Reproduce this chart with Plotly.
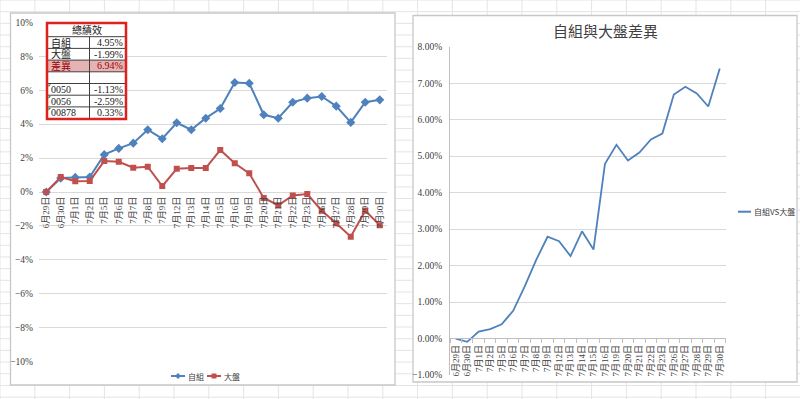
import plotly.graph_objects as go

# ---------------- data ----------------
dates = ["6月29日", "6月30日", "7月1日", "7月2日", "7月5日", "7月6日", "7月7日", "7月8日",
         "7月9日", "7月12日", "7月13日", "7月14日", "7月15日", "7月16日", "7月19日", "7月20日",
         "7月21日", "7月22日", "7月23日", "7月26日", "7月27日", "7月28日", "7月29日", "7月30日"]
own = [0.00, 0.82, 0.86, 0.88, 2.20, 2.57, 2.88, 3.67, 3.14, 4.08, 3.67, 4.35,
       4.92, 6.45, 6.41, 4.55, 4.35, 5.29, 5.53, 5.63, 5.06, 4.10, 5.29, 5.43]
market = [0.00, 0.88, 0.63, 0.65, 1.82, 1.78, 1.43, 1.49, 0.35, 1.37, 1.41, 1.41,
          2.47, 1.69, 1.10, -0.35, -0.78, -0.20, -0.12, -1.10, -1.84, -2.63, -1.10, -1.96]
diff = [0.00, -0.09, 0.19, 0.26, 0.39, 0.76, 1.42, 2.15, 2.79, 2.67, 2.26, 2.94,
        2.44, 4.79, 5.31, 4.88, 5.10, 5.46, 5.62, 6.69, 6.90, 6.72, 6.36, 7.40]

own_name = "自組"
market_name = "大盤"
diff_name = "自組VS大盤"
right_title = "自組與大盤差異"

table_title = "總績效"
table_labels = ["自組", "大盤", "差異", "", "0050", "0056", "00878"]
table_values = ["4.95%", "-1.99%", "6.94%", "", "-1.13%", "-2.59%", "0.33%"]

# ---------------- helpers ----------------
W, H = 800, 399


def px(x):
    return x / W


def py(y):
    return 1 - y / H


BLUE = "#4f81bd"
RED = "#c0504d"
GRID = "#d9d9d9"
SERIF = "Liberation Serif, Noto Sans CJK TC, serif"
CJK = "Noto Sans CJK TC, sans-serif"

fig = go.Figure()

fig.add_trace(go.Scatter(x=dates, y=own, name=own_name, mode="lines+markers",
                         line=dict(color=BLUE, width=2),
                         marker=dict(symbol="diamond", size=7, color=BLUE),
                         xaxis="x", yaxis="y", showlegend=False))
fig.add_trace(go.Scatter(x=dates, y=market, name=market_name, mode="lines+markers",
                         line=dict(color=RED, width=2),
                         marker=dict(symbol="square", size=6, color=RED),
                         xaxis="x", yaxis="y", showlegend=False))
fig.add_trace(go.Scatter(x=dates, y=diff, name=diff_name, mode="lines",
                         line=dict(color=BLUE, width=1.8),
                         xaxis="x2", yaxis="y2", showlegend=False))

shapes = []
# Excel sheet grid in the background
k = 0
while 34.8 * k <= W:
    shapes.append(dict(type="line", xref="paper", yref="paper", layer="below",
                       x0=px(34.8 * k), x1=px(34.8 * k), y0=0, y1=1,
                       line=dict(color="#e4e4e4", width=1)))
    k += 1
k = 0
while 11.68 * k <= H:
    shapes.append(dict(type="line", xref="paper", yref="paper", layer="below",
                       x0=0, x1=1, y0=py(11.68 * k), y1=py(11.68 * k),
                       line=dict(color="#e4e4e4", width=1)))
    k += 1
# chart boxes
shapes.append(dict(type="rect", xref="paper", yref="paper", layer="below",
                   x0=px(10.5), x1=px(395), y0=py(385), y1=py(13),
                   fillcolor="white", line=dict(color="#c8c8c8", width=1.3)))
shapes.append(dict(type="rect", xref="paper", yref="paper", layer="below",
                   x0=px(413), x1=px(797), y0=py(382), y1=py(15.5),
                   fillcolor="white", line=dict(color="#c8c8c8", width=1.3)))

# performance table over the left chart
tx0, tx1, tdiv = 47, 126, 89.5
ty0 = 23.5
row_h = 11.7
hdr_bottom = 36.7
rows_y = [hdr_bottom + i * row_h for i in range(len(table_labels) + 1)]
shapes.append(dict(type="rect", xref="paper", yref="paper", layer="above",
                   x0=px(tx0), x1=px(tx1), y0=py(rows_y[-1]), y1=py(ty0),
                   fillcolor="white", line=dict(width=0)))
shapes.append(dict(type="rect", xref="paper", yref="paper", layer="above",
                   x0=px(tx0), x1=px(tx1), y0=py(rows_y[3]), y1=py(rows_y[2]),
                   fillcolor="#e6b3b3", line=dict(width=0)))
for yy in rows_y[:-1]:
    shapes.append(dict(type="line", xref="paper", yref="paper", layer="above",
                       x0=px(tx0), x1=px(tx1), y0=py(yy), y1=py(yy),
                       line=dict(color="#404040", width=1)))
shapes.append(dict(type="line", xref="paper", yref="paper", layer="above",
                   x0=px(tdiv), x1=px(tdiv), y0=py(rows_y[-1]), y1=py(hdr_bottom),
                   line=dict(color="#404040", width=1)))
shapes.append(dict(type="rect", xref="paper", yref="paper", layer="above",
                   x0=px(tx0), x1=px(tx1), y0=py(rows_y[-1] + 0.5), y1=py(ty0 - 0.5),
                   line=dict(color="#e0201c", width=2.5)))
for i in (4, 5, 6):
    y0 = rows_y[i] + 1
    shapes.append(dict(type="path", xref="paper", yref="paper", layer="above",
                       path=f"M {px(tx0 + 1.5)} {py(y0)} L {px(tx0 + 4)} {py(y0)} L {px(tx0 + 1.5)} {py(y0 + 2.5)} Z",
                       fillcolor="#1e7a3c", line=dict(width=0)))

# ---- manual legends (Excel-style short keys) ----
ly = 376
# 自組 key: line + diamond
shapes.append(dict(type="line", xref="paper", yref="paper", x0=px(171), x1=px(185), y0=py(ly), y1=py(ly),
                   line=dict(color=BLUE, width=2)))
shapes.append(dict(type="path", xref="paper", yref="paper",
                   path=f"M {px(178)} {py(ly - 3)} L {px(181)} {py(ly)} L {px(178)} {py(ly + 3)} L {px(175)} {py(ly)} Z",
                   fillcolor=BLUE, line=dict(width=0)))
# 大盤 key: line + square
shapes.append(dict(type="line", xref="paper", yref="paper", x0=px(207), x1=px(221), y0=py(ly), y1=py(ly),
                   line=dict(color=RED, width=2)))
shapes.append(dict(type="rect", xref="paper", yref="paper",
                   x0=px(211.5), x1=px(216.5), y0=py(ly + 2.5), y1=py(ly - 2.5),
                   fillcolor=RED, line=dict(width=0)))
# right legend key
shapes.append(dict(type="line", xref="paper", yref="paper", x0=px(738), x1=px(751), y0=py(211.7), y1=py(211.7),
                   line=dict(color=BLUE, width=2)))

annotations = []
annotations.append(dict(xref="paper", yref="paper", x=px((tx0 + tx1) / 2), y=py((ty0 + hdr_bottom) / 2),
                        text=table_title, showarrow=False, xanchor="center", yanchor="middle",
                        font=dict(family=SERIF, size=10, color="#202020")))
for i, (lab, val) in enumerate(zip(table_labels, table_values)):
    if not lab:
        continue
    yc = (rows_y[i] + rows_y[i + 1]) / 2
    col = "#9c0006" if i == 2 else "#202020"
    annotations.append(dict(xref="paper", yref="paper", x=px(tx0 + 1.5), y=py(yc),
                            text=lab, showarrow=False, xanchor="left", yanchor="middle",
                            font=dict(family=SERIF, size=10, color=col)))
    annotations.append(dict(xref="paper", yref="paper", x=px(tx1 - 1.5), y=py(yc),
                            text=val, showarrow=False, xanchor="right", yanchor="middle",
                            font=dict(family=SERIF, size=10, color=col)))
annotations.append(dict(xref="paper", yref="paper", x=px(605), y=py(30.5),
                        text=right_title, showarrow=False, xanchor="center", yanchor="middle",
                        font=dict(family=CJK, size=15, color="#404040")))
leg_font = dict(family=CJK, size=8, color="#404040")
annotations.append(dict(xref="paper", yref="paper", x=px(186), y=py(ly), text=own_name,
                        showarrow=False, xanchor="left", yanchor="middle", font=leg_font))
annotations.append(dict(xref="paper", yref="paper", x=px(222), y=py(ly), text=market_name,
                        showarrow=False, xanchor="left", yanchor="middle", font=leg_font))
annotations.append(dict(xref="paper", yref="paper", x=px(752), y=py(211.7), text=diff_name,
                        showarrow=False, xanchor="left", yanchor="middle", font=leg_font))

tickfont = dict(family=SERIF, size=9, color="#404040")

fig.update_layout(
    width=W, height=H,
    margin=dict(l=0, r=0, t=0, b=0, pad=0, autoexpand=False),
    paper_bgcolor="white", plot_bgcolor="rgba(0,0,0,0)",
    shapes=shapes, annotations=annotations, showlegend=False,
    xaxis=dict(type="category", categoryorder="array", categoryarray=dates,
               domain=[px(39), px(387)], range=[-0.5, len(dates) - 0.5],
               anchor="free", position=py(192), tickangle=-90,
               showgrid=False, showline=False, zeroline=False, ticks="",
               tickfont=tickfont, ticklabelstandoff=2),
    yaxis=dict(domain=[py(361.7), py(22.3)], range=[-10, 10], dtick=2, ticksuffix="%",
               anchor="x", showgrid=True, gridcolor=GRID, gridwidth=1.3,
               zeroline=False, showline=False, ticks="",
               tickfont=dict(family=SERIF, size=9.5, color="#404040"), ticklabelstandoff=5),
    xaxis2=dict(type="category", categoryorder="array", categoryarray=dates,
                domain=[px(450), px(725.5)], range=[-0.5, len(dates) - 0.5],
                anchor="free", position=py(338.3), tickangle=-90,
                showgrid=False, showline=True, linecolor="#bfbfbf", linewidth=1,
                zeroline=False, ticks="outside", tickson="boundaries", ticklen=4,
                tickcolor="#bfbfbf", tickfont=tickfont, ticklabelstandoff=2),
    yaxis2=dict(domain=[py(375), py(46.7)], range=[-1, 8], dtick=1,
                tickformat=".2f", ticksuffix="%", anchor="x2",
                showgrid=True, gridcolor=GRID, gridwidth=1.3, zeroline=False,
                showline=True, linecolor="#bfbfbf", linewidth=1, ticks="",
                tickfont=dict(family=SERIF, size=9.5, color="#404040"), ticklabelstandoff=5),
)

fig.write_html("out.html", config={"displayModeBar": False},
               post_script="document.body.style.margin='0px';")
